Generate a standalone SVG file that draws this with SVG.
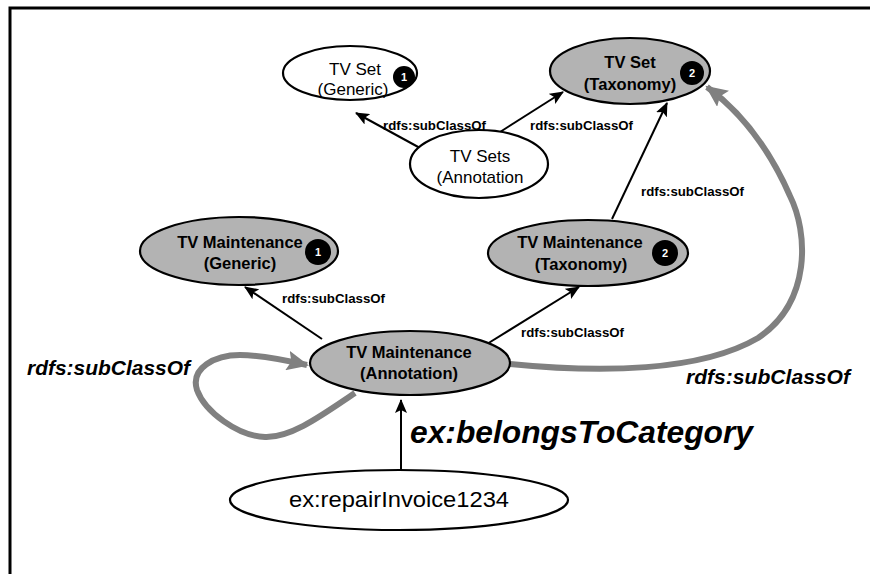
<svg xmlns="http://www.w3.org/2000/svg" width="870" height="574" viewBox="0 0 870 574">
<style>
text{font-family:"Liberation Sans",Arial,sans-serif;fill:#000}
.node{stroke:#000;stroke-width:2.2}
.white{fill:#fff}
.gray{fill:#b3b3b3}
.t{font-size:17px;text-anchor:middle}
.tb{font-size:16.5px;font-weight:bold;text-anchor:middle}
.badge{fill:#000}
.bt{font-size:11px;font-weight:bold;fill:#fff;text-anchor:middle}
.edge{stroke:#000;stroke-width:2;fill:none}
.thick{stroke:#808080;stroke-width:6;fill:none}
.lbl{font-size:12px;font-weight:bold}
.big{font-weight:bold;font-style:italic}
</style>
<defs>
<marker id="ah" markerUnits="userSpaceOnUse" markerWidth="15" markerHeight="12" refX="13" refY="6" orient="auto">
<path d="M0,0 L14,6 L0,12 L3,6 Z" fill="#000"/>
</marker>
<marker id="gh" markerUnits="userSpaceOnUse" markerWidth="24" markerHeight="20" refX="20" refY="10" orient="auto">
<path d="M0,0 L22,10 L0,20 L4,10 Z" fill="#808080"/>
</marker>
</defs>
<rect x="10" y="8" width="900" height="600" fill="none" stroke="#000" stroke-width="3"/>

<g id="connectors">
<line class="edge" x1="420" y1="148" x2="356" y2="113" marker-end="url(#ah)"/>
<line class="edge" x1="500" y1="132" x2="563" y2="92" marker-end="url(#ah)"/>
<line class="edge" x1="612" y1="219" x2="667" y2="103" marker-end="url(#ah)"/>
<line class="edge" x1="322" y1="339" x2="245" y2="287" marker-end="url(#ah)"/>
<line class="edge" x1="487" y1="344" x2="579" y2="287" marker-end="url(#ah)"/>
<line class="edge" x1="401" y1="471" x2="401" y2="400" marker-end="url(#ah)"/>
<path class="thick" d="M355,393 C325,413 292,438 265,437 C238,436 205,412 197,390 C190,368 215,355 240,355 C262,355 285,360 307,365" marker-end="url(#gh)"/>
<path class="thick" d="M510,364 C600,373 700,372 758,338 C812,302 808,232 790,196 C772,155 745,115 707,87" marker-end="url(#gh)"/>
<text class="lbl" x="383" y="130" textLength="103" lengthAdjust="spacingAndGlyphs">rdfs:subClassOf</text>
<text class="lbl" x="530" y="130" textLength="103" lengthAdjust="spacingAndGlyphs">rdfs:subClassOf</text>
<text class="lbl" x="641" y="196" textLength="103" lengthAdjust="spacingAndGlyphs">rdfs:subClassOf</text>
<text class="lbl" x="282" y="303" textLength="103" lengthAdjust="spacingAndGlyphs">rdfs:subClassOf</text>
<text class="lbl" x="521" y="337" textLength="103" lengthAdjust="spacingAndGlyphs">rdfs:subClassOf</text>
<text class="big" x="27" y="375" font-size="20" textLength="163" lengthAdjust="spacingAndGlyphs">rdfs:subClassOf</text>
<text class="big" x="686" y="384" font-size="20" textLength="164" lengthAdjust="spacingAndGlyphs">rdfs:subClassOf</text>
<text class="big" x="410" y="443" font-size="31" textLength="343" lengthAdjust="spacingAndGlyphs">ex:belongsToCategory</text>
</g>

<g id="tvset-generic">
<ellipse class="node white" cx="350" cy="73" rx="67" ry="27"/>
<text class="t" x="355" y="75">TV Set</text>
<text class="t" x="353" y="95">(Generic)</text>
<circle class="badge" cx="404" cy="77" r="11"/>
<text class="bt" x="404" y="81">1</text>
</g>

<g id="tvset-taxonomy">
<ellipse class="node gray" cx="630" cy="71" rx="80" ry="33"/>
<text class="tb" x="630" y="68">TV Set</text>
<text class="tb" x="630" y="90">(Taxonomy)</text>
<circle class="badge" cx="692" cy="73" r="12"/>
<text class="bt" x="692" y="77">2</text>
</g>

<g id="tvsets-annotation">
<ellipse class="node white" cx="479" cy="164" rx="69" ry="34"/>
<text class="t" x="480" y="162">TV Sets</text>
<text class="t" x="480" y="183">(Annotation</text>
</g>

<g id="tvmaint-generic">
<ellipse class="node gray" cx="239" cy="251" rx="99" ry="34"/>
<text class="tb" x="240" y="248">TV Maintenance</text>
<text class="tb" x="240" y="269">(Generic)</text>
<circle class="badge" cx="318" cy="252" r="13"/>
<text class="bt" x="318" y="256">1</text>
</g>

<g id="tvmaint-taxonomy">
<ellipse class="node gray" cx="588" cy="253" rx="100" ry="33"/>
<text class="tb" x="580" y="248">TV Maintenance</text>
<text class="tb" x="581" y="270">(Taxonomy)</text>
<circle class="badge" cx="665" cy="253" r="13"/>
<text class="bt" x="665" y="257">2</text>
</g>

<g id="tvmaint-annotation">
<ellipse class="node gray" cx="410" cy="363" rx="100" ry="32"/>
<text class="tb" x="409" y="358">TV Maintenance</text>
<text class="tb" x="409" y="379">(Annotation)</text>
</g>

<g id="repair-invoice">
<ellipse class="node white" cx="399" cy="500" rx="169" ry="30"/>
<text x="399" y="507" font-size="22" text-anchor="middle" textLength="220" lengthAdjust="spacingAndGlyphs">ex:repairInvoice1234</text>
</g>
</svg>
